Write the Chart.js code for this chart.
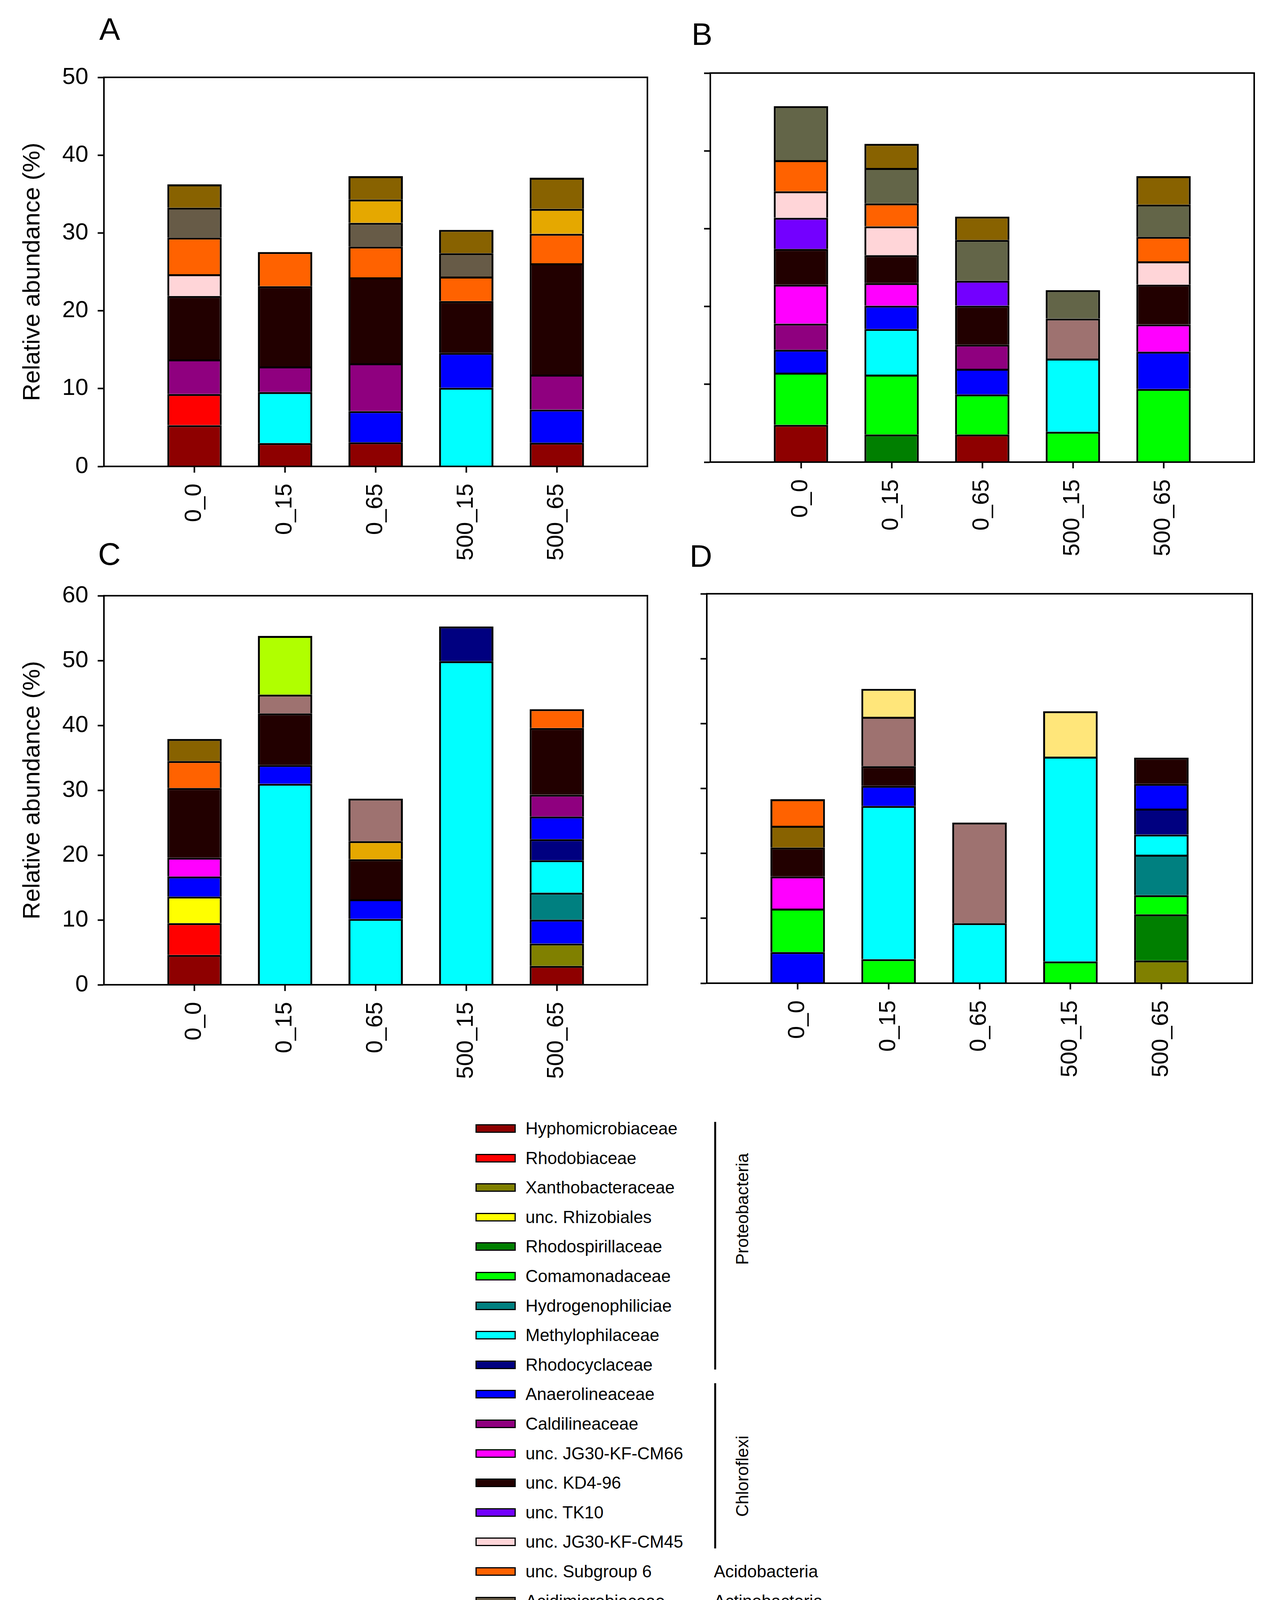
<!DOCTYPE html>
<html>
<head>
<meta charset="utf-8">
<script src="https://cdn.jsdelivr.net/npm/chart.js@4.4.1/dist/chart.umd.min.js"></script>
<style>
  html, body { margin: 0; padding: 0; background: #fff; }
  #page { position: relative; width: 3294px; height: 4624px; background: #fff; overflow: hidden;
          font-family: 'Liberation Sans', Arial, sans-serif; color: #000; }
  canvas { position: absolute; }
  .plabel { position: absolute; font-size: 80px; line-height: 1; }
  .lg-sw { position: absolute; width: 97px; height: 16px; border: 3px solid #000; }
  .lg-tx { position: absolute; font-size: 44px; line-height: 1; white-space: nowrap; }
  .br { position: absolute; width: 5px; background: #000; }
  .rot { position: absolute; font-size: 44px; line-height: 1; white-space: nowrap;
         transform: translate(-50%, -50%) rotate(-90deg); }
</style>
</head>
<body>
<div id="page">
  <canvas id="cA" width="1700" height="1450" style="left:0px;top:0px;width:1700px;height:1450px"></canvas>
  <canvas id="cB" width="1594" height="1450" style="left:1700px;top:0px;width:1594px;height:1450px"></canvas>
  <canvas id="cC" width="1700" height="1450" style="left:0px;top:1350px;width:1700px;height:1450px"></canvas>
  <canvas id="cD" width="1594" height="1450" style="left:1700px;top:1350px;width:1594px;height:1450px"></canvas>
  <div class="plabel" style="left:254px;top:35px">A</div>
  <div class="plabel" style="left:1770px;top:48px">B</div>
  <div class="plabel" style="left:251px;top:1379px">C</div>
  <div class="plabel" style="left:1765px;top:1384px">D</div>
  <div id="legend"></div>
</div>
<script>
// ---------- data ----------
const samples = ['0_0', '0_15', '0_65', '500_15', '500_65'];

const taxa = [
  'Hyphomicrobiaceae', 'Rhodobiaceae', 'Xanthobacteraceae', 'unc. Rhizobiales',
  'Rhodospirillaceae', 'Comamonadaceae', 'Hydrogenophiliciae', 'Methylophilaceae',
  'Rhodocyclaceae', 'Anaerolineaceae', 'Caldilineaceae', 'unc. JG30-KF-CM66',
  'unc. KD4-96', 'unc. TK10', 'unc. JG30-KF-CM45', 'unc. Subgroup 6',
  'Acidimicrobiaceae', 'unc. vadinHA17', 'Eubacteriaceae', 'Peptococcaceae',
  'Nitrospiraceae', 'Gemmatimonadaceae', 'unc. Saccharibacteria'
];

const taxonColors = [
  '#8E0000', '#FF0000', '#808000', '#FFFF00',
  '#007F00', '#00FF00', '#008080', '#00FFFF',
  '#000080', '#0000FF', '#8F007F', '#FF00FF',
  '#220000', '#7300FF', '#FFD5D8', '#FF6200',
  '#675B47', '#E5A800', '#9E7270', '#FFE67A',
  '#636548', '#886200', '#B0FF00'
];

// phylum groups: [label, first row, last row, bracket?]
const phyla = [
  ['Proteobacteria', 0, 8, true],
  ['Chloroflexi', 9, 14, true],
  ['Acidobacteria', 15, 15, false],
  ['Actinobacteria', 16, 16, false],
  ['Bacteroidetes', 17, 17, false],
  ['Firmicutes', 18, 19, true],
  ['Nitrospirae', 20, 20, false],
  ['Gemmatimonadetes', 21, 21, false],
  ['Saccharibacteria', 22, 22, false]
];

// each bar: segments bottom -> top, [taxon, relative abundance %]
const panelA = [
  [['Hyphomicrobiaceae', 5.3], ['Rhodobiaceae', 4.0], ['Caldilineaceae', 4.45], ['unc. KD4-96', 8.15], ['unc. JG30-KF-CM45', 2.8], ['unc. Subgroup 6', 4.7], ['Acidimicrobiaceae', 3.85], ['Gemmatimonadaceae', 3.0]],
  [['Hyphomicrobiaceae', 3.0], ['Methylophilaceae', 6.55], ['Caldilineaceae', 3.3], ['unc. KD4-96', 10.3], ['unc. Subgroup 6', 4.4]],
  [['Hyphomicrobiaceae', 3.1], ['Anaerolineaceae', 4.0], ['Caldilineaceae', 6.15], ['unc. KD4-96', 11.05], ['unc. Subgroup 6', 3.95], ['Acidimicrobiaceae', 3.05], ['unc. vadinHA17', 3.0], ['Gemmatimonadaceae', 3.0]],
  [['Methylophilaceae', 10.1], ['Anaerolineaceae', 4.5], ['unc. KD4-96', 6.65], ['unc. Subgroup 6', 3.15], ['Acidimicrobiaceae', 3.0], ['Gemmatimonadaceae', 3.0]],
  [['Hyphomicrobiaceae', 3.05], ['Anaerolineaceae', 4.25], ['Caldilineaceae', 4.5], ['unc. KD4-96', 14.3], ['unc. Subgroup 6', 3.8], ['unc. vadinHA17', 3.2], ['Gemmatimonadaceae', 4.0]]
];

const panelB = [
  [['Hyphomicrobiaceae', 4.8], ['Comamonadaceae', 6.7], ['Anaerolineaceae', 2.95], ['Caldilineaceae', 3.35], ['unc. JG30-KF-CM66', 5.0], ['unc. KD4-96', 4.6], ['unc. TK10', 4.0], ['unc. JG30-KF-CM45', 3.4], ['unc. Subgroup 6', 4.0], ['Nitrospiraceae', 6.95]],
  [['Rhodospirillaceae', 3.55], ['Comamonadaceae', 7.7], ['Methylophilaceae', 5.85], ['Anaerolineaceae', 3.0], ['unc. JG30-KF-CM66', 2.9], ['unc. KD4-96', 3.6], ['unc. JG30-KF-CM45', 3.7], ['unc. Subgroup 6', 2.95], ['Nitrospiraceae', 4.55], ['Gemmatimonadaceae', 3.1]],
  [['Hyphomicrobiaceae', 3.55], ['Comamonadaceae', 5.15], ['Anaerolineaceae', 3.3], ['Caldilineaceae', 3.1], ['unc. KD4-96', 5.0], ['unc. TK10', 3.2], ['Nitrospiraceae', 5.25], ['Gemmatimonadaceae', 3.0]],
  [['Comamonadaceae', 3.9], ['Methylophilaceae', 9.4], ['Eubacteriaceae', 5.15], ['Nitrospiraceae', 3.65]],
  [['Comamonadaceae', 9.4], ['Anaerolineaceae', 4.8], ['unc. JG30-KF-CM66', 3.5], ['unc. KD4-96', 5.1], ['unc. JG30-KF-CM45', 3.0], ['unc. Subgroup 6', 3.15], ['Nitrospiraceae', 4.15], ['Gemmatimonadaceae', 3.65]]
];

const panelC = [
  [['Hyphomicrobiaceae', 4.6], ['Rhodobiaceae', 4.9], ['unc. Rhizobiales', 4.1], ['Anaerolineaceae', 3.1], ['unc. JG30-KF-CM66', 2.9], ['unc. KD4-96', 10.75], ['unc. Subgroup 6', 4.15], ['Gemmatimonadaceae', 3.4]],
  [['Methylophilaceae', 31.0], ['Anaerolineaceae', 2.9], ['unc. KD4-96', 7.95], ['Eubacteriaceae', 2.9], ['unc. Saccharibacteria', 9.05]],
  [['Methylophilaceae', 10.15], ['Anaerolineaceae', 3.05], ['unc. KD4-96', 6.15], ['unc. vadinHA17', 2.8], ['Eubacteriaceae', 6.55]],
  [['Methylophilaceae', 49.9], ['Rhodocyclaceae', 5.35]],
  [['Hyphomicrobiaceae', 2.9], ['Xanthobacteraceae', 3.45], ['Anaerolineaceae', 3.7], ['Hydrogenophiliciae', 4.15], ['Methylophilaceae', 5.0], ['Rhodocyclaceae', 3.25], ['Anaerolineaceae', 3.5], ['Caldilineaceae', 3.35], ['unc. KD4-96', 10.3], ['unc. Subgroup 6', 2.9]]
];

const panelD = [
  [['Anaerolineaceae', 4.8], ['Comamonadaceae', 6.7], ['unc. JG30-KF-CM66', 4.95], ['unc. KD4-96', 4.45], ['Gemmatimonadaceae', 3.35], ['unc. Subgroup 6', 4.1]],
  [['Comamonadaceae', 3.7], ['Methylophilaceae', 23.6], ['Anaerolineaceae', 3.1], ['unc. KD4-96', 3.05], ['Eubacteriaceae', 7.6], ['Peptococcaceae', 4.3]],
  [['Methylophilaceae', 9.25], ['Eubacteriaceae', 15.5]],
  [['Comamonadaceae', 3.35], ['Methylophilaceae', 31.55], ['Peptococcaceae', 7.0]],
  [['Xanthobacteraceae', 3.5], ['Rhodospirillaceae', 7.1], ['Comamonadaceae', 2.95], ['Hydrogenophiliciae', 6.25], ['Methylophilaceae', 3.1], ['Rhodocyclaceae', 4.0], ['Anaerolineaceae', 3.8], ['unc. KD4-96', 4.05]]
];

const yTicksA = [0, 10, 20, 30, 40, 50];
const yTicksC = [0, 10, 20, 30, 40, 50, 60];
const yTitle = 'Relative abundance (%)';

// ---------- chart building ----------
Chart.defaults.font.family = "'Liberation Sans', Arial, sans-serif";
Chart.defaults.color = '#000';

function colorOf(name) { return taxonColors[taxa.indexOf(name)]; }

function buildLayers(bars) {
  const n = Math.max(...bars.map(b => b.length));
  const sets = [];
  for (let k = 0; k < n; k++) {
    const pts = [];
    bars.forEach((b, i) => { if (b[k]) pts.push({ x: i + 1, y: b[k][1], taxon: b[k][0] }); });
    sets.push({
      label: 'layer ' + (k + 1),
      data: pts,
      backgroundColor: ctx => (ctx.raw ? colorOf(ctx.raw.taxon) : '#000'),
      borderColor: '#000',
      borderWidth: 5,
      borderSkipped: 'start',
      categoryPercentage: 1,
      barPercentage: 0.6
    });
  }
  return sets;
}

const framePlugin = {
  id: 'frame',
  afterDraw(chart) {
    const { ctx, chartArea: a } = chart;
    ctx.save();
    ctx.lineWidth = 4;
    ctx.strokeStyle = '#000';
    ctx.strokeRect(a.left, a.top, a.right - a.left, a.bottom - a.top);
    ctx.restore();
  }
};

function makeChart(id, bars, yTicks, showY, geo) {
  const ymax = yTicks[yTicks.length - 1];
  return new Chart(document.getElementById(id), {
    type: 'bar',
    data: { datasets: buildLayers(bars) },
    plugins: [framePlugin],
    options: {
      responsive: false,
      animation: false,
      devicePixelRatio: 1,
      layout: { padding: { top: geo.top, right: geo.right, left: 0, bottom: 0 } },
      plugins: { legend: { display: false }, tooltip: { enabled: false } },
      scales: {
        x: {
          type: 'linear', stacked: true, min: 0, max: samples.length + 1, offset: false,
          afterBuildTicks: s => { s.ticks = samples.map((_, i) => ({ value: i + 1 })); },
          afterFit: s => { s.height = geo.xh; },
          grid: { offset: false, drawOnChartArea: false, drawTicks: true, tickLength: 16, tickWidth: 4, tickColor: '#000' },
          border: { display: true, width: 4, color: '#000' },
          ticks: {
            autoSkip: false, minRotation: 90, maxRotation: 90, padding: 28,
            font: { size: 59 }, color: '#000',
            callback: v => samples[v - 1] ?? ''
          }
        },
        y: {
          stacked: true, min: 0, max: ymax,
          afterBuildTicks: s => { s.ticks = yTicks.map(v => ({ value: v })); },
          afterFit: s => { s.width = geo.yw; },
          grid: { drawOnChartArea: false, drawTicks: true, tickLength: 16, tickWidth: 4, tickColor: '#000' },
          border: { display: true, width: 4, color: '#000' },
          ticks: { display: showY, padding: 24, font: { size: 60 }, color: '#000' },
          title: { display: showY, text: yTitle, font: { size: 62 }, color: '#000', padding: { top: 47, bottom: 0 } }
        }
      }
    }
  });
}

makeChart('cA', panelA, yTicksA, true,  { top: 198, right: 43, yw: 266, xh: 256 });
makeChart('cB', panelB, yTicksA, false, { top: 187, right: 84, yw: 118, xh: 267 });
makeChart('cC', panelC, yTicksC, true,  { top: 175, right: 43, yw: 266, xh: 279 });
makeChart('cD', panelD, yTicksC, false, { top: 170, right: 89, yw: 109, xh: 283 });

// ---------- custom legend with phylum brackets ----------
(function () {
  const lg = document.getElementById('legend');
  const rowY = i => 2889 + 75.6 * i;
  taxa.forEach((t, i) => {
    const sw = document.createElement('div');
    sw.className = 'lg-sw';
    sw.style.left = '1217px';
    sw.style.top = (rowY(i) - 11) + 'px';
    sw.style.background = taxonColors[i];
    lg.appendChild(sw);
    const tx = document.createElement('div');
    tx.className = 'lg-tx';
    tx.style.left = '1345px';
    tx.style.top = (rowY(i) - 22) + 'px';
    tx.textContent = t;
    lg.appendChild(tx);
  });
  const bracketSpan = { 'Proteobacteria': [2872, 3506], 'Chloroflexi': [3541, 3964], 'Firmicutes': [4227, 4342] };
  const rotCenter = { 'Proteobacteria': 3095, 'Chloroflexi': 3779 };
  phyla.forEach(([name, a, b, br]) => {
    if (br) {
      const [y0, y1] = bracketSpan[name];
      const line = document.createElement('div');
      line.className = 'br';
      line.style.left = '1828px';
      line.style.top = y0 + 'px';
      line.style.height = (y1 - y0) + 'px';
      lg.appendChild(line);
      const tx = document.createElement('div');
      if (name in rotCenter) {
        tx.className = 'rot';
        tx.style.left = '1900px';
        tx.style.top = rotCenter[name] + 'px';
      } else {
        tx.className = 'lg-tx';
        tx.style.left = '1865px';
        tx.style.top = (4280 - 22) + 'px';
      }
      tx.textContent = name;
      lg.appendChild(tx);
    } else {
      const tx = document.createElement('div');
      tx.className = 'lg-tx';
      tx.style.left = '1827px';
      tx.style.top = (rowY(a) - 22) + 'px';
      tx.textContent = name;
      lg.appendChild(tx);
    }
  });
})();
</script>
</body>
</html>
